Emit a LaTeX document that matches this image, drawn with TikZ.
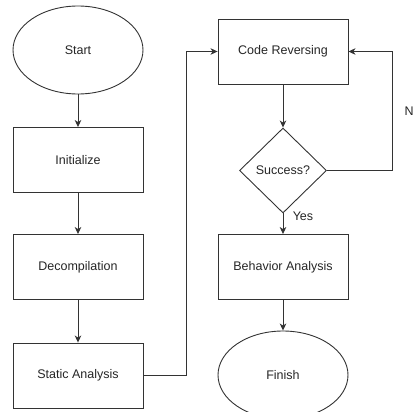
\documentclass[tikz,border=0pt]{standalone}
\usepackage{fontspec}
\setmainfont{Liberation Sans}
\usetikzlibrary{shapes.geometric, arrows.meta}

\begin{document}
\begin{tikzpicture}[x=1pt, y=-1pt, >={Stealth[length=7pt, width=6.5pt, inset=2pt]},
  every node/.style={font=\fontsize{12.5}{14}\selectfont, text=black!85},
  line width=0.9pt, draw=black!80,
  box/.style={draw=black!80, rectangle, minimum width=130pt, minimum height=65pt, inner sep=0pt},
  term/.style={draw=black!80, ellipse, minimum width=130pt, minimum height=88pt, inner sep=0pt},
  check/.style={draw=black!80, diamond, minimum width=87pt, minimum height=85pt, inner sep=0pt}]
  \useasboundingbox (0,0) rectangle (412,412);

  % Left column
  \node[term] (start) at (78, 50) {Start};
  \node[box] (init) at (78, 160) {Initialize};
  \node[box] (decomp) at (78, 267) {Decompilation};
  \node[box] (static) at (78, 375.5) {Static Analysis};

  % Right column
  \node[box] (reverse) at (283, 51.5) {Code Reversing};
  \node[check] (success) at (283, 170.5) {Success?};
  \node[box] (behavior) at (283, 267) {Behavior Analysis};
  \node[term] (finish) at (283, 375) {Finish};

  % Connectors
  \draw[->, draw=black!80] (start) -- (init);
  \draw[->, draw=black!80] (init) -- (decomp);
  \draw[->, draw=black!80] (decomp) -- (static);
  \draw[->, draw=black!80] (static.east) -- ++(43,0) |- (reverse.west);
  \draw[->, draw=black!80] (reverse) -- (success);
  \draw[->, draw=black!80] (success) -- (behavior)
    node[pos=0.15, right=6pt] {Yes};
  \draw[->, draw=black!80] (success.east) -- ++(65,0) |- (reverse.east)
    node[pos=0.25, right=9pt] {No};
  \draw[->, draw=black!80] (behavior) -- (finish);
\end{tikzpicture}
\end{document}
